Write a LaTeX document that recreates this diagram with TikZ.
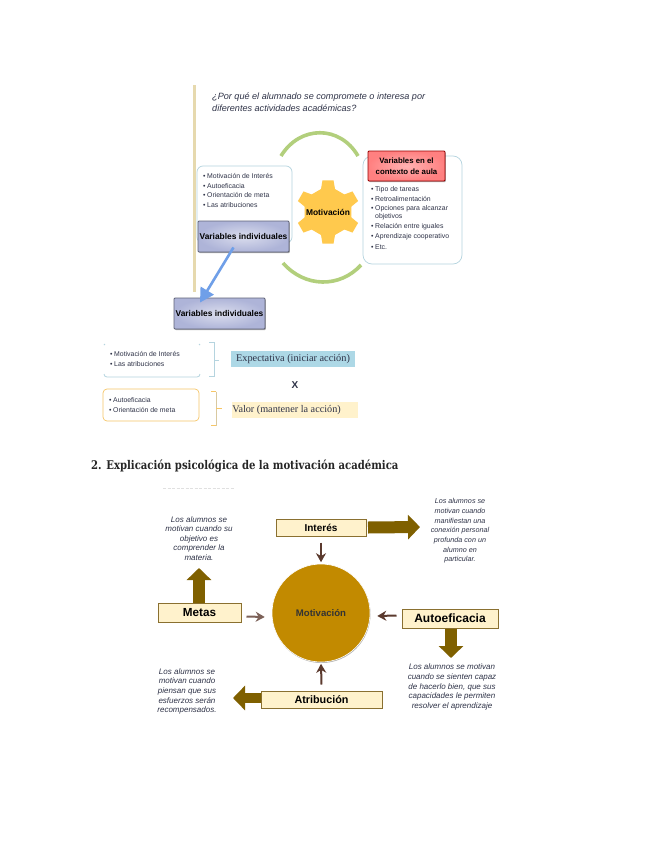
\documentclass[tikz,border=0pt]{standalone}
\usepackage{graphicx}
\usepackage{fontspec}
\setmainfont{Liberation Sans}
\newfontfamily\serifa{Liberation Serif}
\newfontfamily\slab{DejaVu Serif}
\usetikzlibrary{arrows.meta,shadows,positioning}
\definecolor{brownbar}{HTML}{7F6000}
\definecolor{boxedge}{HTML}{8A7030}
\definecolor{darkarrow}{HTML}{5B3A2E}
\definecolor{cream}{HTML}{FFF2CC}
\definecolor{gold}{HTML}{C28A00}
\definecolor{gearc}{HTML}{FFC94D}
\definecolor{leaf}{HTML}{B2CF7C}
\definecolor{paleblue}{HTML}{B5D4DF}
\definecolor{skyfill}{HTML}{ADD8E6}
\definecolor{orangeb}{HTML}{F6C667}
\definecolor{inkc}{HTML}{2F3348}
\definecolor{tanc}{HTML}{D9C9A0}
\definecolor{barc}{HTML}{E6D9AE}
\definecolor{lilacbase}{HTML}{AEB4D8}
\definecolor{arrowblue}{HTML}{6F9FE8}
\tikzset{
  softshadow/.style={drop shadow={shadow xshift=0.8pt,shadow yshift=-1pt,fill=black,opacity=.35}},
  lilac/.style={draw=lilacbase!55!black,line width=.9pt,rounded corners=1pt,inner color=lilacbase!45!white,outer color=lilacbase,softshadow,font=\bfseries\fontsize{8.4}{10}\selectfont,text=black,inner sep=0pt},
  tanbox/.style={draw=boxedge,line width=1pt,fill=cream,softshadow,inner sep=0pt},
  softbox/.style={rounded corners=6pt,fill=white,line width=.7pt},
  listtext/.style={anchor=west,inner sep=0pt,font=\fontsize{6.9}{8}\selectfont,text=inkc},
  quote/.style={align=center,inner sep=0pt,font=\itshape\fontsize{8}{9.6}\selectfont,text=inkc},
  pointer/.style={draw=darkarrow,line width=2pt,-{Stealth[length=9pt,width=10pt]}},
  block/.style={draw=brownbar,line width=#1,-{Triangle[length=12pt,width=24pt]}},
  block/.default=12pt,
  ringarc/.style={draw=leaf,line width=3.6pt},
}
\begin{document}
\begin{tikzpicture}[x=1pt,y=-1pt]
\useasboundingbox[fill=white] (0,0) rectangle (655,848);
% upper diagram
\fill[barc] (193,85) rectangle (196,292);
\node[anchor=west,inner sep=0pt,align=left,font=\itshape\fontsize{9.1}{12}\selectfont,text=inkc] (question) at (212,102)
 {¿Por qué el alumnado se compromete o interesa por\\diferentes actividades académicas?};
% green arcs
\draw[ringarc] (281,156) .. controls (300,125) and (340,125) .. (358,156);
\draw[ringarc] (283,263) .. controls (305,288) and (340,288) .. (361,265);
% white boxes
\node[softbox,draw=paleblue,minimum width=95pt,minimum height=77pt] (leftbox) at (244.5,204.5) {};
\node[softbox,draw=paleblue,minimum width=99pt,minimum height=108pt,rounded corners=9pt] (rightbox) at (412.5,210) {};
% lists
\node[listtext] (l1) at (203,176) {•\hspace{1.6pt}Motivación de Interés};
\node[listtext] (l2) at (203,186) {•\hspace{1.6pt}Autoeficacia};
\node[listtext] (l3) at (203,195) {•\hspace{1.6pt}Orientación de meta};
\node[listtext] (l4) at (203,205) {•\hspace{1.6pt}Las atribuciones};
\node[listtext] (r1) at (371,190) {•\hspace{1.6pt}Tipo de tareas};
\node[listtext] (r2) at (371,199) {•\hspace{1.6pt}Retroalimentación};
\node[listtext] (r3) at (371,209) {•\hspace{1.6pt}Opciones para alcanzar};
\node[listtext] (r3b) at (375,217) {objetivos};
\node[listtext] (r4) at (371,227) {•\hspace{1.6pt}Relación entre iguales};
\node[listtext] (r5) at (371,237) {•\hspace{1.6pt}Aprendizaje cooperativo};
\node[listtext] (r6) at (371,247) {•\hspace{1.6pt}Etc.};
% gear
\fill[gearc] ([shift={(328,212)}]13:24) \foreach \a in {30,90,150,210,270,330} {
  -- ([shift={(328,212)}]\a-17:24)
  -- ([shift={(328,212)}]\a-10:32) -- ([shift={(328,212)}]\a+10:32) -- ([shift={(328,212)}]\a+17:24)
} -- cycle;
\node[inner sep=0pt,font=\bfseries\fontsize{8.4}{10}\selectfont,text=black] (gear) at (328,212) {Motivación};
% coloured boxes
\node[draw=red!60!black,line width=.9pt,rounded corners=1pt,inner color=red!30!white,outer color=red!50!white,softshadow,align=center,minimum width=77pt,minimum height=30pt,inner sep=0pt,font=\bfseries\fontsize{7.8}{11.5}\selectfont,text=black] (aula) at (406.5,166) {Variables en el\\contexto de aula};
\node[lilac,minimum width=91pt,minimum height=31pt] (var1) at (243.5,236.5) {Variables individuales};
\node[lilac,minimum width=91pt,minimum height=31pt] (var2) at (219.5,313.5) {Variables individuales};
\draw[draw=arrowblue,line width=2.6pt,-{Triangle[length=14pt,width=15pt]}] ([xshift=-10pt,yshift=5pt]var1.south) -- ([xshift=-19.5pt,yshift=-5pt]var2.north);
% middle block
\draw[paleblue,line width=.8pt,rounded corners=3pt] (104,374) -- (104,377) -- (200,377) -- (200,374);
\draw[paleblue,line width=.8pt] (104,345) -- (105,344) (199,344) -- (200,345);
\node[draw=orangeb,line width=.7pt,rounded corners=4pt,minimum width=96pt,minimum height=32pt] (box2) at (151,405) {};
\node[listtext] (m1) at (110,354) {•\hspace{1.6pt}Motivación de Interés};
\node[listtext] (m2) at (110,364) {•\hspace{1.6pt}Las atribuciones};
\node[listtext] (m3) at (109,400) {•\hspace{1.6pt}Autoeficacia};
\node[listtext] (m4) at (109,410) {•\hspace{1.6pt}Orientación de meta};
\draw[paleblue,line width=1pt] (209,342.5) -- (214,342.5) -- (214,376.5) -- (209,376.5) (214,360) -- (219,360);
\draw[tanc,line width=1pt] (216,391.5) -- (216,425.5);
\draw[orangeb,line width=1pt] (211,391.5) -- (216,391.5) (216,408.5) -- (222,408.5) (211,425.5) -- (216,425.5);
\node[fill=skyfill,minimum width=124pt,minimum height=16pt,inner sep=0pt,text=inkc,font=\serifa\fontsize{10.3}{12}\selectfont] (expect) at (293,359) {Expectativa (iniciar acción)};
\node[inner sep=0pt,font=\bfseries\fontsize{10}{12}\selectfont,text=inkc] (xmark) at (295,385) {X};
\node[fill=cream,minimum width=126pt,minimum height=16pt,inner sep=0pt,text=inkc,font=\serifa\fontsize{10.2}{12}\selectfont] (valor) at (295,410) {\hspace{-17pt}Valor (mantener la acción)};
% heading
\node[anchor=west,inner sep=0pt,font=\slab\bfseries\fontsize{12}{14}\selectfont,text=black!85] (title) at (91,466) {\scalebox{0.84}[1]{2. Explicación psicológica de la motivación académica}};
\draw[black!12,line width=.8pt,dash pattern=on 3pt off 1.5pt] (163,488) -- (235,488);
% lower diagram
\node[circle,fill=gold,draw=white,line width=.6pt,minimum size=98pt,inner sep=0pt,drop shadow={shadow xshift=.5pt,shadow yshift=-1pt,fill=black,opacity=.3},font=\bfseries\fontsize{9.6}{11}\selectfont,text=black!80] (mot) at (321,613) {Motivación};
\node[tanbox,minimum width=90pt,minimum height=17pt,font=\bfseries\fontsize{10}{12}\selectfont] (interes) at (321,527.5) {Interés};
\node[tanbox,minimum width=83pt,minimum height=19pt,font=\bfseries\fontsize{11.7}{13}\selectfont] (metas) at (199.5,612.5) {Metas};
\node[tanbox,minimum width=96pt,minimum height=19pt,font=\bfseries\fontsize{12}{14}\selectfont] (auto) at (450,618.5) {Autoeficacia};
\node[tanbox,minimum width=121pt,minimum height=17pt,font=\bfseries\fontsize{10.8}{13}\selectfont] (atrib) at (321.5,699.5) {Atribución};
\coordinate (tipI) at (420,527);
\coordinate (tipM) at (199,568);
\coordinate (tipA) at (451,658);
\coordinate (tipT) at (233,698);
\draw[block] ([xshift=1.5pt]interes.east) -- (tipI);
\draw[block] (metas.north -| tipM) -- (tipM);
\draw[block] (auto.south -| tipA) -- (tipA);
\draw[block=10pt] (atrib.west |- tipT) -- (tipT);
\draw[pointer] ([yshift=-6pt]interes.south) -- ([yshift=1.5pt]mot.north);
\draw[pointer,draw=darkarrow!80!white] ([xshift=5pt,yshift=-4pt]metas.east) -- ([xshift=-7pt,yshift=-4pt]mot.west);
\draw[pointer] ([xshift=-5pt,yshift=3pt]auto.west) -- ([xshift=7pt,yshift=-3pt]mot.east);
\draw[pointer] ([yshift=6pt]atrib.north) -- ([yshift=-1.5pt]mot.south);
\node[quote,font=\itshape\fontsize{7.2}{9.7}\selectfont] (qi) at (460,531) {Los alumnos se\\motivan cuando\\manifiestan una\\conexión personal\\profunda con un\\alumno en\\particular.};
\node[quote] (qm) at (199,538.5) {Los alumnos se\\motivan cuando su\\objetivo es\\comprender la\\materia.};
\node[quote] (qa) at (452,687) {Los alumnos se motivan\\cuando se sienten capaz\\de hacerlo bien, que sus\\capacidades le permiten\\resolver el aprendizaje};
\node[quote] (qt) at (187,691.5) {Los alumnos se\\motivan cuando\\piensan que sus\\esfuerzos serán\\recompensados.};
\end{tikzpicture}
\end{document}
